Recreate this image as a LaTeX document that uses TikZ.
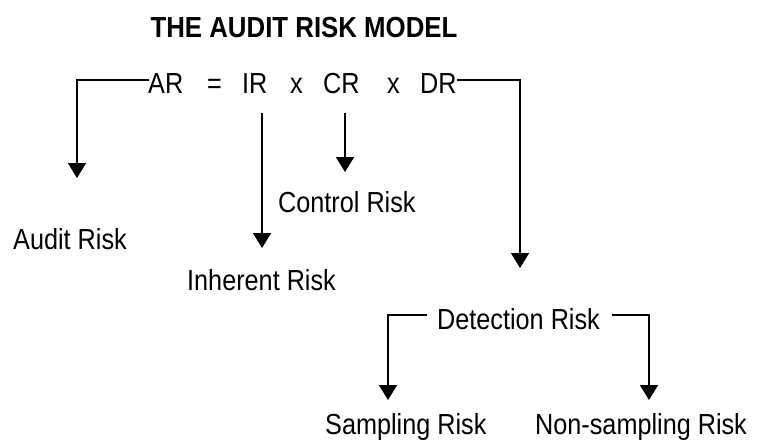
\documentclass[tikz,border=0pt]{standalone}
\usepackage{fontspec}
\setmainfont[FakeStretch=0.87]{Liberation Sans}
\newfontfamily\titlefont[FakeStretch=0.89]{Liberation Sans}
\usetikzlibrary{arrows.meta}
\begin{document}
\begin{tikzpicture}[x=1pt,y=-1pt,
  txt/.style={inner sep=0pt,anchor=base west,font=\fontsize{29}{34}\selectfont},
  conn/.style={line width=1.7pt,-{Triangle[width=18pt,length=15pt]}}]
\useasboundingbox (0,0) rectangle (758,444);
\node[inner sep=0pt,anchor=base,font=\titlefont\fontsize{29}{34}\selectfont\bfseries] (title) at (304,38) {THE AUDIT RISK MODEL};
% formula
\node[txt] (AR) at (148,93) {AR};
\node[txt] (eq) at (207,93) {=};
\node[txt] (IR) at (242,93) {IR};
\node[txt] (x1) at (290,93) {x};
\node[txt] (CR) at (323,93) {CR};
\node[txt] (x2) at (387,93) {x};
\node[txt] (DR) at (420,93) {DR};
% labels
\node[txt] (audit) at (13,249) {Audit Risk};
\node[txt] (control) at (278,212) {Control Risk};
\node[txt] (inherent) at (187,290) {Inherent Risk};
\node[txt] (detection) at (437,329) {Detection Risk};
\node[txt] (sampling) at (325,434) {Sampling Risk};
\node[txt] (nonsampling) at (535,434) {Non-sampling Risk};
% free ends
\coordinate (arL) at (149,80);
\coordinate (arTip) at (77,178);
\coordinate (irTop) at (262,113);
\coordinate (irTip) at (262,248);
\coordinate (crTop) at (345,113);
\coordinate (crTip) at (345,172);
\coordinate (drR) at (457,80);
\coordinate (drTip) at (520,268);
\coordinate (detL) at (427,315);
\coordinate (detR) at (612,315);
\coordinate (sTip) at (388,400);
\coordinate (nTip) at (649,400);
% connectors
\draw[conn] (arL) -| (arTip);
\draw[conn] (irTop) -- (irTip);
\draw[conn] (crTop) -- (crTip);
\draw[conn] (drR) -| (drTip);
\draw[conn] (detL) -| (sTip);
\draw[conn] (detR) -| (nTip);
\end{tikzpicture}
\end{document}
